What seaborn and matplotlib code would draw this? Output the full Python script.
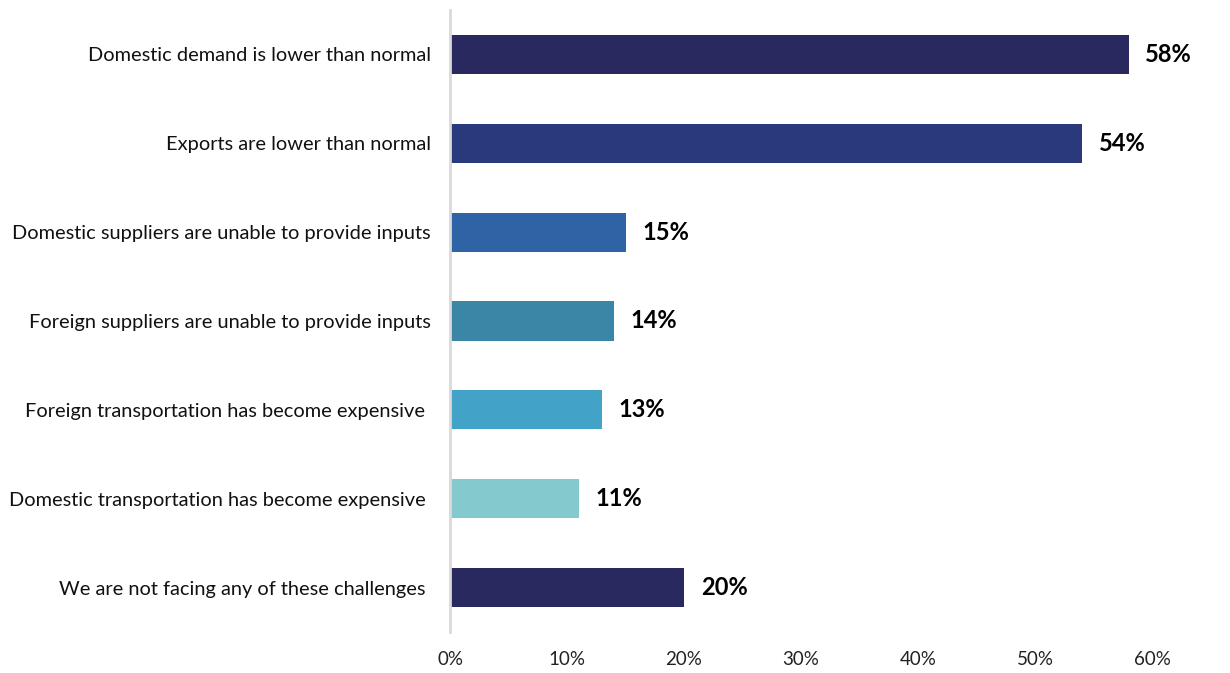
import matplotlib
matplotlib.use("Agg")
import matplotlib.pyplot as plt
import seaborn as sns
import pandas as pd

challenges = [
    "Domestic demand is lower than normal",
    "Exports are lower than normal",
    "Domestic suppliers are unable to provide inputs",
    "Foreign suppliers are unable to provide inputs",
    "Foreign transportation has become expensive ",
    "Domestic transportation has become expensive ",
    "We are not facing any of these challenges ",
]
shares = [58, 54, 15, 14, 13, 11, 20]
bar_colors = ["#29295F", "#2A397C", "#3063A5", "#3A86A6", "#42A2C8", "#84C9CD", "#29295F"]
x_ticks = [0, 10, 20, 30, 40, 50, 60]

df = pd.DataFrame({"challenge": challenges, "share": shares})

sns.set_theme(style="white")
plt.rcParams["font.family"] = ["Lato", "DejaVu Sans"]

fig = plt.figure(figsize=(12.3, 6.73), dpi=100)
ax = fig.add_axes([450 / 1230, 1 - 632 / 673, (1152 - 450) / 1230, (632 - 10) / 673])

sns.barplot(
    data=df, y="challenge", x="share", hue="challenge",
    palette=bar_colors, orient="h", width=0.44, legend=False,
    saturation=1, linewidth=0, ax=ax,
)

ax.set_xlim(0, 60)
ax.set_ylim(6.5, -0.5)
ax.set_xticks(x_ticks)
ax.set_xticklabels([f"{t}%" for t in x_ticks], fontsize=13.5, color="#222222")
ax.tick_params(axis="y", labelsize=14.4, colors="#111111", pad=14, length=0)
ax.tick_params(axis="x", pad=14, length=0)
ax.set_xlabel("")
ax.set_ylabel("")

for side in ["top", "right", "bottom"]:
    ax.spines[side].set_visible(False)
ax.spines["left"].set_color("#d9d9d9")
ax.spines["left"].set_linewidth(2)

for i, v in enumerate(shares):
    ax.annotate(f"{v}%", xy=(v, i), xytext=(12, 0), textcoords="offset points",
                va="center", ha="left", fontsize=17, fontweight="bold",
                color="#000000", annotation_clip=False)

fig.savefig("out.png", dpi=100)
